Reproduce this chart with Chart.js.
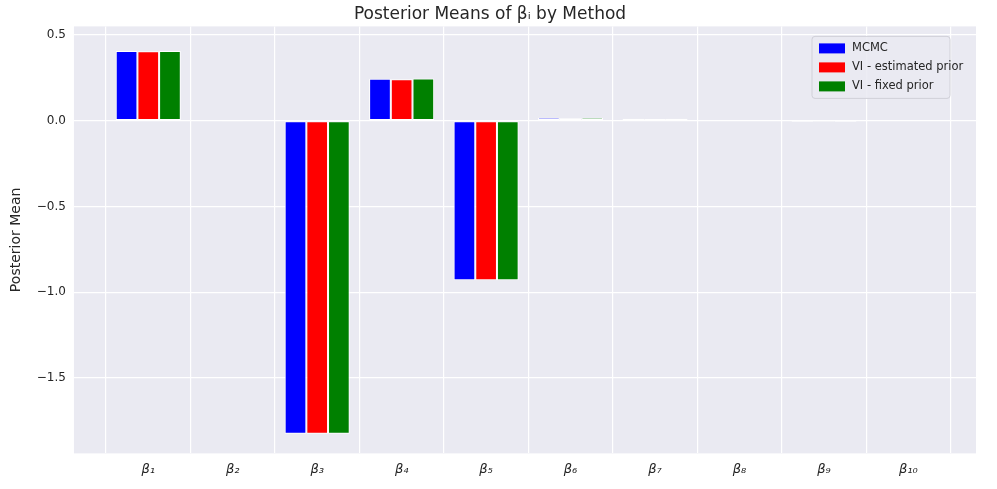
<!DOCTYPE html>
<html><head><meta charset="utf-8">
<script src="https://cdn.jsdelivr.net/npm/chart.js@4"></script>
<style>html,body{margin:0;background:#fff}#wrap{width:997px;height:489px}</style>
</head><body><div id="wrap"><canvas id="c"></canvas></div>
<script>
const categories = ['β₁','β₂','β₃','β₄','β₅','β₆','β₇','β₈','β₉','β₁₀'];
const mcmc   = [0.407, -0.003, -1.826, 0.244, -0.93, 0.018, 0.012, 0.001, -0.008, 0.001];
const viEst  = [0.405, -0.002, -1.826, 0.242, -0.93, 0.014, 0.010, 0.001, -0.006, 0.001];
const viFix  = [0.406, -0.003, -1.826, 0.246, -0.93, 0.017, 0.011, 0.001, -0.007, 0.001];
const yTicks = [-1.5, -1.0, -0.5, 0.0, 0.5];

const legendItems = [['MCMC','#0000ff'],['VI - estimated prior','#ff0000'],['VI - fixed prior','#008000']];

const bgPlugin = {
  id: 'bg',
  beforeDraw(chart) {
    const {ctx, chartArea: a} = chart;
    ctx.save(); ctx.fillStyle = '#eaeaf2';
    ctx.fillRect(a.left, a.top, a.right - a.left, a.bottom - a.top); ctx.restore();
  },
  afterDraw(chart) {
    const {ctx, chartArea: a} = chart;
    const x = a.right - 164, y = a.top + 10, w = 138, h = 62;
    ctx.save();
    ctx.fillStyle = 'rgba(234,234,242,0.85)'; ctx.strokeStyle = '#d0d0d8';
    ctx.beginPath(); ctx.roundRect(x, y, w, h, 3); ctx.fill(); ctx.stroke();
    ctx.font = '11.5px "DejaVu Sans"'; ctx.textBaseline = 'middle';
    legendItems.forEach(([t, c], i) => {
      const yy = y + 12 + i * 19;
      ctx.fillStyle = c; ctx.fillRect(x + 7, yy - 5, 26, 10);
      ctx.fillStyle = '#262626'; ctx.fillText(t, x + 40, yy);
    });
    ctx.restore();
  }
};

const ds = (label, data, color) => ({ label, data: data.map((v, i) => ({ x: i, y: v })),
  backgroundColor: color, borderColor: '#ffffff',
  borderWidth: 1, borderSkipped: false, categoryPercentage: 0.77, barPercentage: 1.0 });

new Chart(document.getElementById('c'), {
  type: 'bar',
  data: { datasets: [ds('MCMC', mcmc, '#0000ff'), ds('VI - estimated prior', viEst, '#ff0000'), ds('VI - fixed prior', viFix, '#008000')] },
  options: {
    responsive: true, maintainAspectRatio: false, animation: false,
    layout: { padding: { left: 4, right: 21, top: 0, bottom: 4 } },
    plugins: {
      legend: { display: false },
      tooltip: { enabled: false },
      title: { display: true, text: 'Posterior Means of βᵢ by Method', color: '#262626',
        font: { family: 'DejaVu Sans', size: 17, weight: 'normal' }, padding: { top: 4, bottom: 2 } }
    },
    scales: {
      x: { type: 'linear', min: -0.88, max: 9.8, offset: false,
           afterBuildTicks: ax => { ax.ticks = categories.map((_, i) => ({ value: i })); },
           grid: { color: '#ffffff', lineWidth: 1.2, drawTicks: false },
           border: { display: false },
           ticks: { color: '#262626', padding: 8, autoSkip: false, maxRotation: 0,
                    callback: v => categories[v],
                    font: { family: 'DejaVu Sans', size: 13, style: 'italic' } } },
      y: { min: -1.94, max: 0.55,
           afterBuildTicks: ax => { ax.ticks = yTicks.map(v => ({ value: v })); },
           grid: { color: '#ffffff', lineWidth: 1.2, drawTicks: false }, border: { display: false },
           ticks: { color: '#262626', padding: 8, font: { family: 'DejaVu Sans', size: 12 },
                    callback: v => (v < 0 ? '\u2212' : '') + Math.abs(v).toFixed(1) },
           title: { display: true, text: 'Posterior Mean', color: '#262626', font: { family: 'DejaVu Sans', size: 14 } } }
    }
  },
  plugins: [bgPlugin]
});
</script></body></html>
